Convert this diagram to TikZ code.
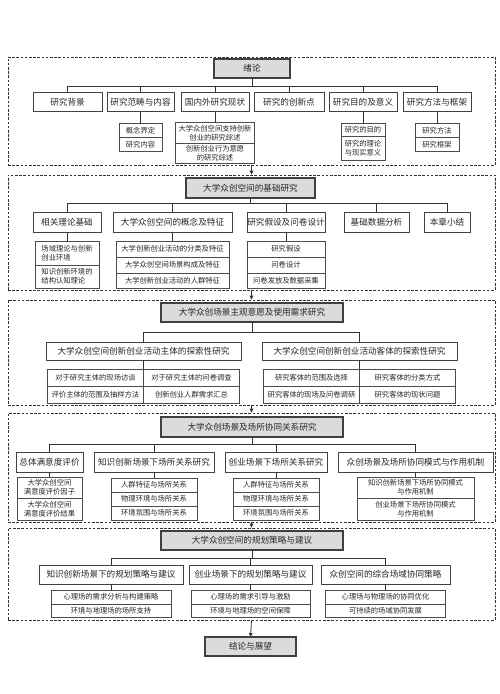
\documentclass[tikz,border=0pt]{standalone}
\usepackage{fontspec}
\newfontfamily\cjk{Noto Sans CJK SC}
\usetikzlibrary{arrows.meta, positioning}

\begin{document}
\begin{tikzpicture}[x=1pt, y=-1pt,
  every node/.style={font=\cjk\fontsize{8.6}{10}\selectfont, text=black!85},
  sec/.style={draw=black!80, dash pattern=on 2.6pt off 1.6pt, line width=0.7pt,
              minimum width=487pt, inner sep=0pt},
  box/.style={draw=black!75, fill=white, inner sep=0pt, outer sep=0pt},
  ttl/.style={box, fill=black!14, line width=1.1pt, minimum height=19pt},
  itm/.style={box, line width=0.9pt, minimum height=19pt},
  sub/.style={box, draw=black!70, line width=0.6pt, align=center,
              font=\cjk\fontsize{7.3}{8.6}\selectfont},
  lk/.style={black!80, line width=0.8pt},
  arr/.style={lk, -{Triangle[length=4pt,width=3.6pt]}}
]
\useasboundingbox (0,0) rectangle (500,694);

%% section frames
\node[sec, minimum height=108pt] (sec1) at (251.5,111)   {};
\node[sec, minimum height=115pt] (sec2) at (251.5,232.5) {};
\node[sec, minimum height=105pt] (sec3) at (251.5,352.5) {};
\node[sec, minimum height=109pt] (sec4) at (251.5,467.5) {};
\node[sec, minimum height=92pt]  (sec5) at (251.5,574)   {};

%% 1 -- introduction
\node[ttl, minimum width=76pt] (t1) at (252,68.5) {绪论};
\node[itm, minimum width=69pt] (c11) at (67.5,102) {研究背景};
\node[itm, minimum width=67pt] (c12) at (140.5,102) {研究范畴与内容};
\node[itm, minimum width=68pt] (c13) at (215,102) {国内外研究现状};
\node[itm, minimum width=70pt] (c14) at (289,102) {研究的创新点};
\node[itm, minimum width=68pt] (c15) at (363,102) {研究目的及意义};
\node[itm, minimum width=68pt] (c16) at (437,102) {研究方法与框架};
\foreach \c in {c11,c12,c13,c14,c15,c16}
  \draw[lk] (t1.south) -- ++(0,8) -| (\c.north);

\node[sub, minimum width=43pt, minimum height=14pt, below=12pt of c12] (s12a) {概念界定};
\node[sub, minimum width=43pt, minimum height=14pt, below=0pt of s12a] (s12b) {研究内容};
\node[sub, minimum width=79pt, minimum height=21pt, below=11pt of c13] (s13a) {大学众创空间支持创新\\创业的研究综述};
\node[sub, minimum width=79pt, minimum height=20pt, below=0pt of s13a] (s13b) {创新创业行为意愿\\的研究综述};
\node[sub, minimum width=44pt, minimum height=13pt, below=12pt of c15] (s15a) {研究的目的};
\node[sub, minimum width=44pt, minimum height=24pt, below=0pt of s15a] (s15b) {研究的理论\\与现实意义};
\node[sub, minimum width=44pt, minimum height=14pt, below=12pt of c16] (s16a) {研究方法};
\node[sub, minimum width=44pt, minimum height=14pt, below=0pt of s16a] (s16b) {研究框架};
\foreach \a/\b in {c12/s12a,c13/s13a,c15/s15a,c16/s16a}
  \draw[lk] (\a.south) -- (\b.north);

%% 2 -- basic research
\node[ttl, minimum width=129pt, minimum height=20pt] (t2) at (250.5,188) {大学众创空间的基础研究};
\node[itm, minimum width=68pt, minimum height=20pt] (c21) at (67,222) {相关理论基础};
\node[itm, minimum width=119pt, minimum height=20pt] (c22) at (172.5,222) {大学众创空间的概念及特征};
\node[itm, minimum width=78pt, minimum height=20pt] (c23) at (286,222) {研究假设及问卷设计};
\node[itm, minimum width=65pt, minimum height=20pt] (c24) at (376.5,222) {基础数据分析};
\node[itm, minimum width=46pt, minimum height=20pt] (c25) at (447,222) {本章小结};
\foreach \c in {c21,c22,c23,c24,c25}
  \draw[lk] (t2.south) -- ++(0,5) -| (\c.north);

\node[sub, minimum width=64pt, minimum height=24pt, below=9pt of c21, align=left] (s21a) {场域理论与创新\\创业环境};
\node[sub, minimum width=64pt, minimum height=23pt, below=0pt of s21a, align=left] (s21b) {知识创新环境的\\结构认知理论};
\node[sub, minimum width=113pt, minimum height=16pt, below=9pt of c22] (s22a) {大学创新创业活动的分类及特征};
\node[sub, minimum width=113pt, minimum height=16pt, below=0pt of s22a] (s22b) {大学众创空间场景构成及特征};
\node[sub, minimum width=113pt, minimum height=15pt, below=0pt of s22b] (s22c) {大学创新创业活动的人群特征};
\node[sub, minimum width=78pt, minimum height=16pt, below=9pt of c23] (s23a) {研究假设};
\node[sub, minimum width=78pt, minimum height=16pt, below=0pt of s23a] (s23b) {问卷设计};
\node[sub, minimum width=78pt, minimum height=15pt, below=0pt of s23b] (s23c) {问卷发放及数据采集};
\foreach \a/\b in {c21/s21a,c22/s22a,c23/s23a}
  \draw[lk] (\a.south) -- (\b.north);

%% 3 -- subjective will and demand
\node[ttl, minimum width=182pt] (t3) at (252,312.5) {大学众创场景主观意愿及使用需求研究};
\node[itm, minimum width=195pt, minimum height=18pt] (c31) at (143.5,351) {大学众创空间创新创业活动主体的探索性研究};
\node[itm, minimum width=195pt, minimum height=18pt] (c32) at (359.5,351) {大学众创空间创新创业活动客体的探索性研究};
\foreach \c in {c31,c32}
  \draw[lk] (t3.south) -- ++(0,10) -| (\c.north);

\node[sub, minimum width=96pt, minimum height=17pt, anchor=north east] (g1a) at ([yshift=-9pt]c31.south) {对于研究主体的现场访谈};
\node[sub, minimum width=96pt, minimum height=17pt, right=0pt of g1a] (g1b) {对于研究主体的问卷调查};
\node[sub, minimum width=96pt, minimum height=17pt, below=0pt of g1a] (g1c) {评价主体的范围及抽样方法};
\node[sub, minimum width=96pt, minimum height=17pt, right=0pt of g1c] (g1d) {创新创业人群需求汇总};
\node[sub, minimum width=96pt, minimum height=17pt, anchor=north east] (g2a) at ([yshift=-9pt]c32.south) {研究客体的范围及选择};
\node[sub, minimum width=96pt, minimum height=17pt, right=0pt of g2a] (g2b) {研究客体的分类方式};
\node[sub, minimum width=96pt, minimum height=17pt, below=0pt of g2a] (g2c) {研究客体的现场及问卷调研};
\node[sub, minimum width=96pt, minimum height=17pt, right=0pt of g2c] (g2d) {研究客体的现状问题};
\draw[lk] (c31.south) -- (g1a.north east);
\draw[lk] (c32.south) -- (g2a.north east);

%% 4 -- scene and place synergy
\node[ttl, minimum width=182pt, minimum height=20pt] (t4) at (252,427) {大学众创场景及场所协同关系研究};
\node[itm, minimum width=67pt, minimum height=20pt] (c41) at (49.5,462) {总体满意度评价};
\node[itm, minimum width=120pt, minimum height=20pt] (c42) at (154,462) {知识创新场景下场所关系研究};
\node[itm, minimum width=102pt, minimum height=20pt] (c43) at (276,462) {创业场景下场所关系研究};
\node[itm, minimum width=155pt, minimum height=20pt] (c44) at (415.5,462) {众创场景及场所协同模式与作用机制};
\foreach \c in {c41,c42,c43,c44}
  \draw[lk] (t4.south) -- ++(0,7) -| (\c.north);

\node[sub, minimum width=65pt, minimum height=21pt, below=5pt of c41] (s41a) {大学众创空间\\满意度评价因子};
\node[sub, minimum width=65pt, minimum height=22pt, below=0pt of s41a] (s41b) {大学众创空间\\满意度评价结果};
\node[sub, minimum width=86pt, minimum height=14pt, below=6pt of c42] (s42a) {人群特征与场所关系};
\node[sub, minimum width=86pt, minimum height=14pt, below=0pt of s42a] (s42b) {物理环境与场所关系};
\node[sub, minimum width=86pt, minimum height=14pt, below=0pt of s42b] (s42c) {环境氛围与场所关系};
\node[sub, minimum width=86pt, minimum height=14pt, below=6pt of c43] (s43a) {人群特征与场所关系};
\node[sub, minimum width=86pt, minimum height=14pt, below=0pt of s43a] (s43b) {物理环境与场所关系};
\node[sub, minimum width=86pt, minimum height=14pt, below=0pt of s43b] (s43c) {环境氛围与场所关系};
\node[sub, minimum width=117pt, minimum height=21pt, below=5pt of c44] (s44a) {知识创新场景下场所协同模式\\与作用机制};
\node[sub, minimum width=117pt, minimum height=22pt, below=0pt of s44a] (s44b) {创业场景下场所协同模式\\与作用机制};
\foreach \a/\b in {c41/s41a,c42/s42a,c43/s43a,c44/s44a}
  \draw[lk] (\a.south) -- (\b.north);

%% 5 -- planning strategy
\node[ttl, minimum width=182pt] (t5) at (252,540.5) {大学众创空间的规划策略与建议};
\node[itm, minimum width=144pt] (c51) at (111,574.5) {知识创新场景下的规划策略与建议};
\node[itm, minimum width=123pt] (c52) at (250.5,574.5) {创业场景下的规划策略与建议};
\node[itm, minimum width=129pt] (c53) at (385.5,574.5) {众创空间的综合场域协同策略};
\foreach \c in {c51,c52,c53}
  \draw[lk] (t5.south) -- ++(0,8) -| (\c.north);

\node[sub, minimum width=120pt, minimum height=14pt, below=6pt of c51] (s51a) {心理场的需求分析与构建策略};
\node[sub, minimum width=120pt, minimum height=13pt, below=0pt of s51a] (s51b) {环境与地理场的场所支持};
\node[sub, minimum width=119pt, minimum height=14pt, below=6pt of c52] (s52a) {心理场的需求引导与激励};
\node[sub, minimum width=119pt, minimum height=13pt, below=0pt of s52a] (s52b) {环境与地理场的空间保障};
\node[sub, minimum width=120pt, minimum height=14pt, below=6pt of c53] (s53a) {心理场与物理场的协同优化};
\node[sub, minimum width=120pt, minimum height=13pt, below=0pt of s53a] (s53b) {可持续的场域协同发展};
\foreach \a/\b in {c51/s51a,c52/s52a,c53/s53a}
  \draw[lk] (\a.south) -- (\b.north);

%% conclusion
\node[ttl, minimum width=91pt] (end) at (250.5,646.5) {结论与展望};

%% flow between sections
\draw[arr] (sec1.south) -- (sec2.north);
\draw[arr] (sec2.south) -- (sec3.north);
\draw[arr] (sec3.south) -- (sec4.north);
\draw[arr] (sec4.south) -- (sec5.north);
\draw[arr] (sec5.south) -- (end.north);
\end{tikzpicture}
\end{document}
